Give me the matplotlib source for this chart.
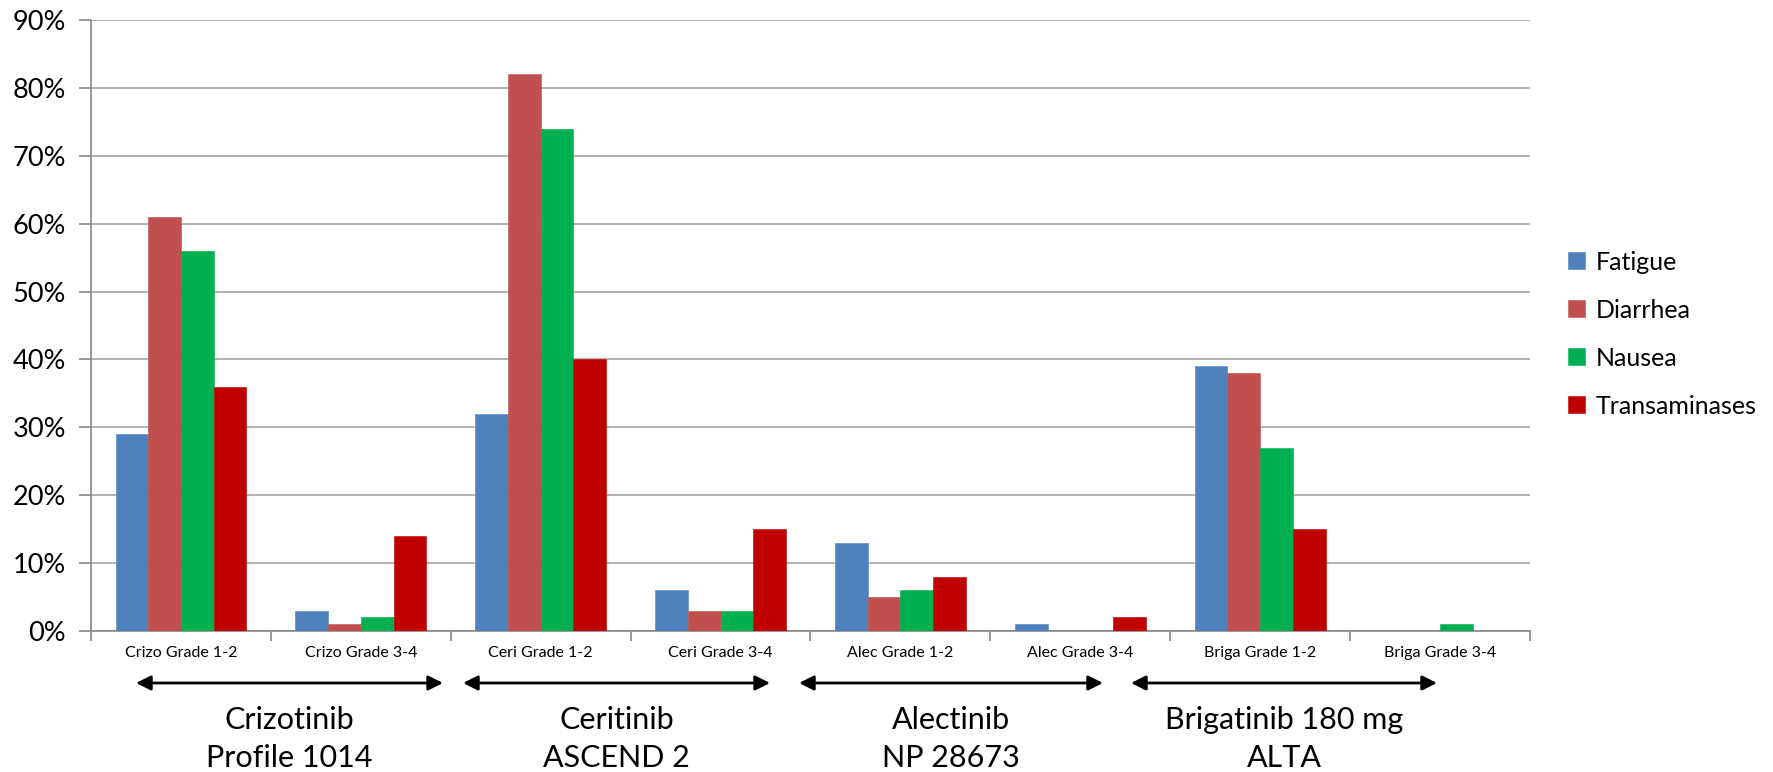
import matplotlib.pyplot as plt
import numpy as np
from matplotlib.ticker import FuncFormatter, MultipleLocator

plt.rcParams['font.family'] = ['Lato', 'DejaVu Sans']

categories = ["Crizo Grade 1-2", "Crizo Grade 3-4", "Ceri Grade 1-2", "Ceri Grade 3-4",
              "Alec Grade 1-2", "Alec Grade 3-4", "Briga Grade 1-2", "Briga Grade 3-4"]
series_names = ["Fatigue", "Diarrhea", "Nausea", "Transaminases"]
fatigue = [0.29, 0.03, 0.32, 0.06, 0.13, 0.01, 0.39, 0.00]
diarrhea = [0.61, 0.01, 0.82, 0.03, 0.05, 0.00, 0.38, 0.00]
nausea = [0.56, 0.02, 0.74, 0.03, 0.06, 0.00, 0.27, 0.01]
transaminases = [0.36, 0.14, 0.40, 0.15, 0.08, 0.02, 0.15, 0.00]
colors = ["#4F81BD", "#C0504D", "#00B050", "#C00000"]

drug_labels = ["Crizotinib\nProfile 1014", "Ceritinib\nASCEND 2",
               "Alectinib\nNP 28673", "Brigatinib 180 mg\nALTA"]
# arrow extents in figure pixels (left, right)
arrow_spans = [(136, 443), (463, 770), (799, 1103), (1131, 1437)]

W, H = 1774, 772
fig = plt.figure(figsize=(W / 100, H / 100), dpi=100)
ax = fig.add_axes([91 / W, (H - 631) / H, (1530 - 91) / W, (631 - 20) / H])

x = np.arange(len(categories))
bw = 1 / 5.5  # Excel gap width 150%
for j, (vals, c, name) in enumerate(zip([fatigue, diarrhea, nausea, transaminases], colors, series_names)):
    ax.bar(x + (j - 1.5) * bw, vals, width=bw, color=c, label=name,
           edgecolor=c, linewidth=0.4, zorder=3)

ax.set_xlim(-0.5, len(categories) - 0.5)
ax.set_ylim(0, 0.9)
ax.yaxis.set_major_locator(MultipleLocator(0.1))
ax.yaxis.set_major_formatter(FuncFormatter(lambda v, p: f"{v * 100:.0f}%"))
ax.grid(axis='y', color='#a6a6a6', linewidth=1.2, zorder=0)
ax.set_axisbelow(True)

ax.set_xticks(x)
ax.set_xticklabels(categories, fontsize=11.5)
ax.set_xticks(np.arange(-0.5, len(categories)), minor=True)
ax.tick_params(axis='x', which='major', length=0, pad=11)
ax.tick_params(axis='x', which='minor', length=7, color='#888888', width=1.2)
ax.tick_params(axis='y', length=9, color='#888888', width=1.2, labelsize=19.5, pad=9)

for s in ['top', 'right']:
    ax.spines[s].set_visible(False)
for s in ['left', 'bottom']:
    ax.spines[s].set_color('#888888')
    ax.spines[s].set_linewidth(1.2)

# treatment brackets and study names under the axis
for (x0, x1), lab in zip(arrow_spans, drug_labels):
    ax.annotate("", xy=(x0 / W, (H - 683) / H), xytext=(x1 / W, (H - 683) / H),
                xycoords='figure fraction', textcoords='figure fraction',
                arrowprops=dict(arrowstyle='<|-|>', color='black', lw=2,
                                mutation_scale=22, shrinkA=0, shrinkB=0),
                annotation_clip=False)
    fig.text((x0 + x1) / 2 / W, (H - 739) / H, lab, ha='center', va='center',
             fontsize=22, linespacing=1.45)

leg = ax.legend(loc='center left', bbox_to_anchor=(1546 / W, (H - 334) / H),
                bbox_transform=fig.transFigure, frameon=False, fontsize=18,
                handlelength=0.68, handleheight=0.68, handletextpad=0.4,
                labelspacing=1.0)

fig.savefig("out.png", dpi=100, facecolor='white')
